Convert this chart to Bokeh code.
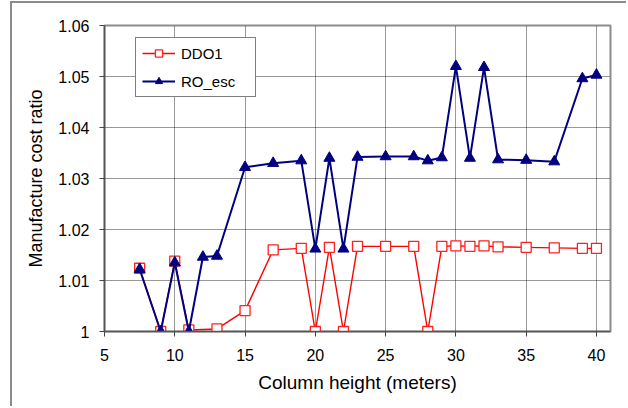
from bokeh.plotting import figure
from bokeh.models import Range1d, NumeralTickFormatter, FixedTicker, Legend, LegendItem
from bokeh.embed import file_html
from bokeh.resources import INLINE

# ---- data ----
x_ddo1 = [7.5, 9, 10, 11, 13, 15, 17, 19, 20, 21, 22, 23, 25, 27, 28, 29, 30, 31, 32, 33, 35, 37, 39, 40]
y_ddo1 = [1.0124, 1.0, 1.0138, 1.0003, 1.0005, 1.0041, 1.0160, 1.0163, 1.0, 1.0165, 1.0, 1.0167,
          1.0167, 1.0167, 1.0, 1.0167, 1.0168, 1.0167, 1.0168, 1.0166, 1.0165, 1.0164, 1.0163, 1.0163]
x_ro = [7.5, 9, 10, 11, 12, 13, 15, 17, 19, 20, 21, 22, 23, 25, 27, 28, 29, 30, 31, 32, 33, 35, 37, 39, 40]
y_ro = [1.0122, 1.0, 1.0135, 1.0, 1.0146, 1.0148, 1.0322, 1.0330, 1.0335, 1.0162, 1.0340, 1.0162, 1.0342,
        1.0343, 1.0343, 1.0335, 1.0341, 1.0520, 1.0340, 1.0518, 1.0337, 1.0336, 1.0333, 1.0496, 1.0503]
x_ticks = [5, 10, 15, 20, 25, 30, 35, 40]
y_ticks = [1.0, 1.01, 1.02, 1.03, 1.04, 1.05, 1.06]
series_names = ["DDO1", "RO_esc"]
x_title = "Column height (meters)"
y_title = "Manufacture cost ratio"

FONT = "Liberation Sans"

p = figure(width=616, height=405, x_range=Range1d(5, 41), y_range=Range1d(1.0, 1.06),
           output_backend="svg", toolbar_location=None,
           min_border_left=92, min_border_right=18, min_border_top=22, min_border_bottom=77)
p.styles = {"margin-left": "10px", "margin-top": "1px",
            "border-left": "2px solid #8c8c8c", "border-top": "2px solid #8c8c8c"}

p.background_fill_color = "white"
p.border_fill_color = "white"
p.outline_line_color = "#8c8c8c"
p.outline_line_width = 2

for ax, ticks in ((p.xaxis[0], x_ticks), (p.yaxis[0], y_ticks)):
    ax.ticker = FixedTicker(ticks=ticks)
    ax.minor_tick_line_color = None
    ax.major_tick_in = 0
    ax.major_tick_out = 5
    ax.major_tick_line_color = "#444444"
    ax.axis_line_color = "#555555"
    ax.axis_line_width = 1.5
    ax.major_label_text_font = FONT
    ax.major_label_text_font_size = "16px"
    ax.major_label_text_color = "black"
    ax.axis_label_text_font = FONT
    ax.axis_label_text_font_style = "normal"
    ax.axis_label_text_color = "black"

p.yaxis[0].formatter = NumeralTickFormatter(format="0.[00]")
p.xaxis[0].axis_label = x_title
p.yaxis[0].axis_label = y_title
p.xaxis[0].axis_label_text_font_size = "19px"
p.yaxis[0].axis_label_text_font_size = "18px"
p.yaxis[0].major_label_standoff = 10
p.yaxis[0].axis_label_standoff = 9
p.xaxis[0].major_label_standoff = 12
p.xaxis[0].axis_label_standoff = 8

for g in (p.xgrid[0], p.ygrid[0]):
    g.grid_line_color = "#000000"
    g.grid_line_alpha = 0.8
    g.grid_line_dash = "1 1"
    g.grid_line_width = 1
p.xgrid[0].ticker = FixedTicker(ticks=x_ticks[1:])
p.ygrid[0].ticker = FixedTicker(ticks=y_ticks[1:])

r1 = p.line(x_ddo1, y_ddo1, line_color="#ff0000", line_width=1.4)
m1 = p.scatter(x_ddo1, y_ddo1, marker="square", size=10, fill_color="white",
               line_color="#ff2020", line_width=1.3)
r2 = p.line(x_ro, y_ro, line_color="#000080", line_width=2)
m2 = p.scatter(x_ro, y_ro, marker="triangle", size=11, fill_color="#000080",
               line_color="#000080", line_width=1)

legend = Legend(items=[LegendItem(label=series_names[0], renderers=[r1, m1]),
                       LegendItem(label=series_names[1], renderers=[r2, m2])],
                location=(31, 234))
legend.label_text_font = FONT
legend.label_text_font_size = "15px"
legend.label_text_color = "black"
legend.glyph_width = 33
legend.glyph_height = 18
legend.label_height = 18
legend.label_width = 68
legend.label_standoff = 6
legend.spacing = 10
legend.padding = 6
legend.margin = 0
legend.border_line_color = "black"
legend.border_line_width = 1
legend.background_fill_color = "white"
legend.background_fill_alpha = 1
p.add_layout(legend, "center")

open("out.html", "w").write(file_html(p, INLINE))
